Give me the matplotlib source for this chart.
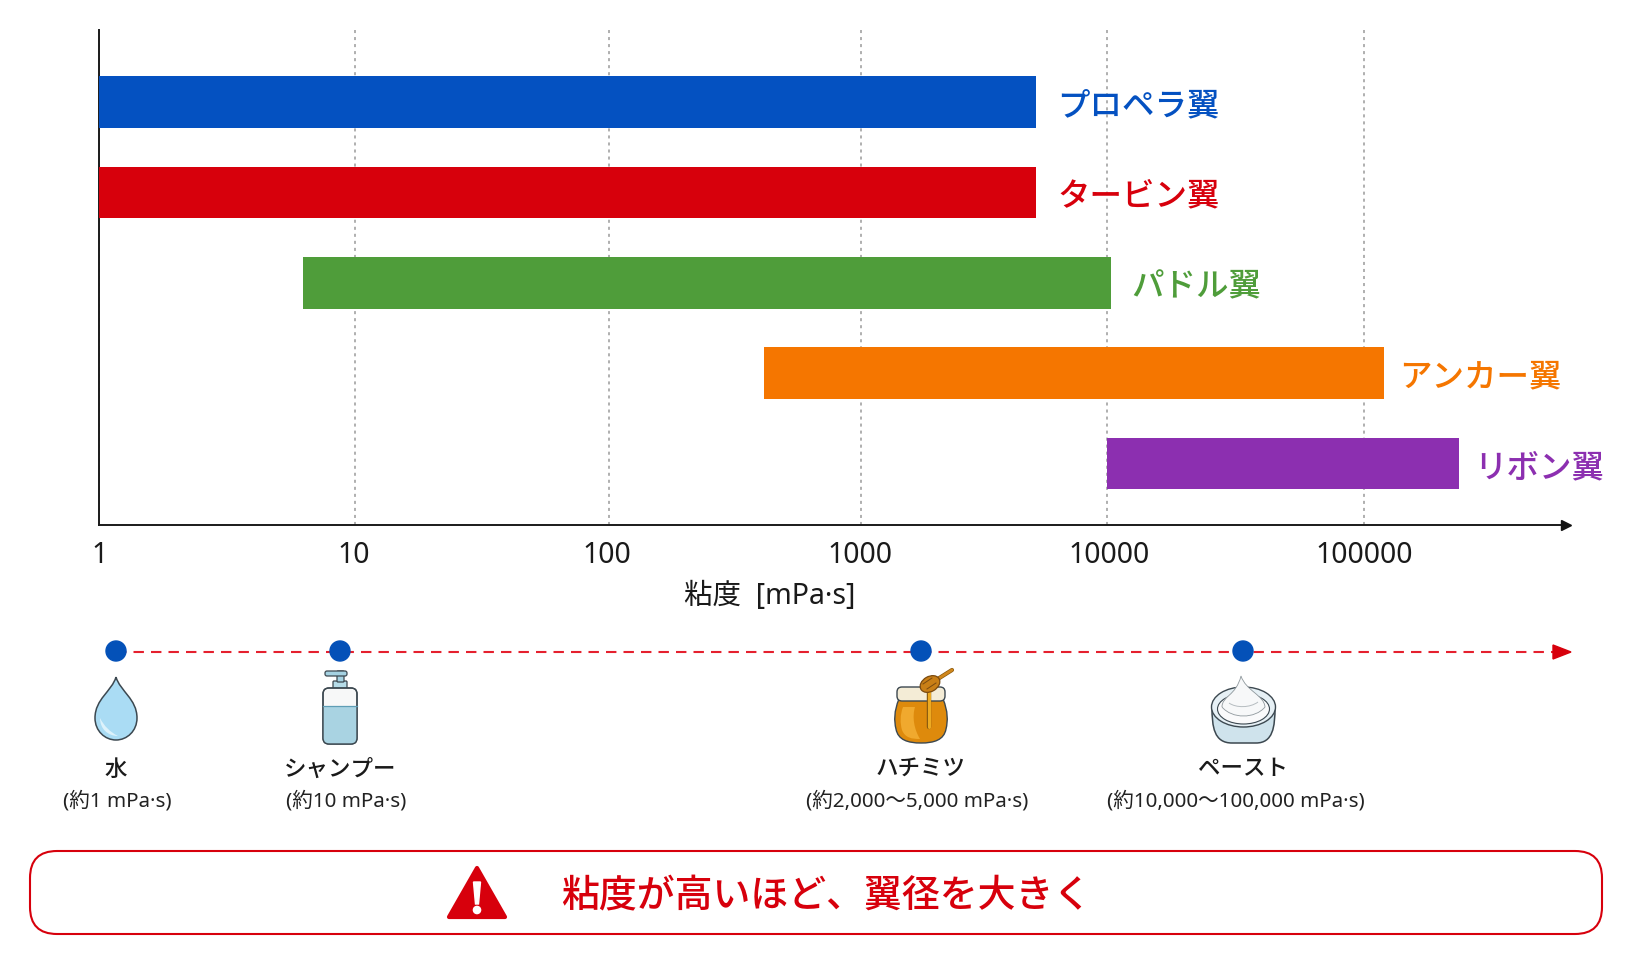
import numpy as np
import matplotlib
matplotlib.use('Agg')
import matplotlib.pyplot as plt
from matplotlib.patches import Polygon, PathPatch, FancyBboxPatch, Ellipse, Circle, Rectangle
from matplotlib.path import Path
from matplotlib.transforms import ScaledTranslation

W, H = 1635, 962
JP = ['Noto Sans CJK JP', 'DejaVu Sans']
LATIN_JP = ['Noto Sans', 'Noto Sans CJK JP']

# impeller ranges
impellers = ['プロペラ翼', 'タービン翼', 'パドル翼', 'アンカー翼', 'リボン翼']
visc_low = [1, 1, 6.3, 412, 10000]
visc_high = [5150, 5150, 10400, 120000, 235000]
bar_colors = ['#0451C1', '#D7000C', '#4F9D3A', '#F57600', '#8C2FB0']
label_gap = [15.5, 15.5, 14, 10.5, 10.5]

tick_values = [1, 10, 100, 1000, 10000, 100000]
tick_labels = ['1', '10', '100', '1000', '10000', '100000']
tick_shift = [1, -1, -2, -1, 2, 0]

# reference fluids along the strip below the chart
fluids = ['水', 'シャンプー', 'ハチミツ', 'ペースト']
fluid_ranges = ['(約1 mPa·s)', '(約10 mPa·s)', '(約2,000〜5,000 mPa·s)', '(約10,000〜100,000 mPa·s)']
fluid_x = [116, 340, 921, 1243]
range_x = [117, 346, 917, 1236]

# pixel position of each decade on the axis
decade_log = [0, 1, 2, 3, 4, 5, 6]
decade_px = [99, 354.7, 609, 861, 1107, 1364, 1621]


def forward(x):
    return np.interp(np.log10(np.maximum(x, 1e-3)), decade_log, decade_px)


def inverse(p):
    return 10 ** np.interp(p, decade_px, decade_log)


fig = plt.figure(figsize=(W / 100, H / 100), dpi=100)
ax = fig.add_axes([99 / W, 1 - 526 / H, (1566 - 99) / W, (526 - 31) / H])
ax.set_xscale('function', functions=(forward, inverse))
ax.set_xlim(1, inverse(1566))
ax.set_ylim((526 - 103) / 90.4, (31 - 103) / 90.4)

y = np.arange(len(impellers))
for i in y:
    ax.barh(i, visc_high[i] - visc_low[i], left=visc_low[i], height=0.57,
            color=bar_colors[i], zorder=3)
    ax.annotate(impellers[i], (visc_high[i], i), xytext=(label_gap[i], -2.5),
                textcoords='offset points', va='center', ha='left',
                fontsize=23.4, fontweight='medium', family=JP,
                color=bar_colors[i], zorder=4)

ax.set_xticks(tick_values, tick_labels)
ax.minorticks_off()
ax.set_yticks([])
ax.tick_params(axis='x', length=0, pad=11, labelsize=20.5, labelcolor='#1a1a1a')
for lab, dx in zip(ax.get_xticklabels(), tick_shift):
    lab.set_family('Noto Sans')
    lab.set_transform(lab.get_transform() + ScaledTranslation(dx / 100, 0, fig.dpi_scale_trans))
ax.grid(axis='x', color='#9a9a9a', lw=1.1, ls=(0, (2, 2.6)), zorder=1)
ax.set_axisbelow(True)
for s in ['top', 'right']:
    ax.spines[s].set_visible(False)
for s in ['left', 'bottom']:
    ax.spines[s].set_linewidth(1.4)
    ax.spines[s].set_color('#1a1a1a')
ax.plot(1, 0, '>', transform=ax.transAxes, clip_on=False, color='#111111', ms=7, zorder=5)

# everything below the chart is laid out in pixels
ov = fig.add_axes([0, 0, 1, 1], facecolor='none')
ov.set_xlim(0, W)
ov.set_ylim(H, 0)
ov.axis('off')

ov.text(770, 596, '粘度  [mPa·s]', ha='center', va='center', fontsize=20.5,
        family=LATIN_JP, color='#1a1a1a')

# viscosity strip
ov.plot([116, 1556], [653, 653], color='#E5202E', lw=1.5, ls=(0, (5, 3.4)), zorder=1)
ov.add_patch(Polygon([[1553, 646], [1571, 653], [1553, 660]], color='#D7000C', zorder=2))
for fx in fluid_x:
    ov.add_patch(Circle((fx, 652), 10, color='#0451B8', zorder=3))

for name, rng, nx, rx in zip(fluids, fluid_ranges, fluid_x, range_x):
    ov.text(nx, 769, name, ha='center', va='center', fontsize=16.2,
            fontweight='medium', family=JP, color='#1a1a1a')
    ov.text(rx, 801, rng, ha='center', va='center', fontsize=14.8,
            family=LATIN_JP, color='#222222')

OUT = '#3c4850'


def curve(verts, **kw):
    codes = [Path.MOVETO] + [Path.CURVE4] * (len(verts) - 1)
    p = PathPatch(Path(verts, codes), **kw)
    ov.add_patch(p)
    return p


def rrect(x0, y0, x1, y1, r, **kw):
    p = FancyBboxPatch((x0 + r, y0 + r), x1 - x0 - 2 * r, y1 - y0 - 2 * r,
                       boxstyle=f'round,pad={r},rounding_size={r}', **kw)
    ov.add_patch(p)
    return p


# water drop
cx = 116
curve([(cx, 678), (cx + 4, 692), (cx + 21, 700), (cx + 21, 719),
       (cx + 21, 732), (cx + 11, 741), (cx, 741),
       (cx - 11, 741), (cx - 21, 732), (cx - 21, 719),
       (cx - 21, 700), (cx - 4, 692), (cx, 678)],
      fc='#AADCF4', ec=OUT, lw=1.1)
curve([(cx - 16, 719), (cx - 16, 730), (cx - 8, 737), (cx + 2, 737),
       (cx - 6, 733), (cx - 12, 727), (cx - 16, 719)],
      fc='#DDF2FB', ec='none')

# shampoo bottle
rrect(333, 682, 347, 692, 1, fc='#B5DCE8', ec=OUT, lw=0.9)
rrect(337, 672, 344, 683, 1, fc='#A5D2E2', ec=OUT, lw=0.9)
rrect(325, 672, 347, 677, 2, fc='#A5D2E2', ec=OUT, lw=0.9)
body = rrect(323, 689, 357, 745, 6, fc='#F7F8F8', ec=OUT, lw=1.0)
liquid = Rectangle((323, 707), 34, 38, fc='#A9D3E2', ec='none')
ov.add_patch(liquid)
liquid.set_clip_path(body)
rrect(323, 689, 357, 745, 6, fc='none', ec=OUT, lw=1.0)
ov.plot([323, 357], [707, 707], color='#5E9DB5', lw=0.9)

# honey jar
curve([(899, 700), (894, 712), (894, 722), (896, 730),
       (898, 741), (908, 744), (921, 744),
       (934, 744), (944, 741), (946, 730),
       (948, 722), (948, 712), (943, 700),
       (930, 700), (912, 700), (899, 700)],
      fc='#DE8A0C', ec=OUT, lw=1.0)
curve([(903, 708), (900, 716), (900, 724), (902, 731),
       (905, 739), (912, 740), (920, 740),
       (914, 730), (912, 718), (915, 708),
       (911, 708), (907, 708), (903, 708)],
      fc='#F0A92E', ec='none')
rrect(897, 688, 945, 702, 5, fc='#F4ECD6', ec=OUT, lw=1.0)
ov.plot([929, 929], [692, 728], color='#8A5A10', lw=3.2, solid_capstyle='round')
ov.plot([929, 929], [692, 728], color='#EDAA22', lw=2.2, solid_capstyle='round')
ov.plot([933, 952], [683, 671], color='#8A5A10', lw=3.0, solid_capstyle='round')
ov.plot([933, 952], [683, 671], color='#D0871C', lw=2.0, solid_capstyle='round')
ov.add_patch(Ellipse((930, 685), 21, 15, angle=-30, fc='#C97F16', ec='#7A4A10', lw=0.9, zorder=3))
ov.plot([923, 932], [685, 679], color='#7A4A10', lw=0.7, zorder=4)
ov.plot([927, 936], [690, 684], color='#7A4A10', lw=0.7, zorder=4)

# cream pot
curve([(1212, 708), (1212, 728), (1214, 744), (1232, 744),
       (1240, 744), (1248, 744), (1256, 744),
       (1273, 744), (1275, 728), (1275, 708),
       (1255, 708), (1232, 708), (1212, 708)],
      fc='#CFE3EC', ec=OUT, lw=1.1)
ov.add_patch(Ellipse((1243.5, 708), 64, 40, fc='#E6F0F5', ec=OUT, lw=1.0))
ov.add_patch(Ellipse((1243.5, 710), 52, 30, fc='#FAFAFB', ec=OUT, lw=0.8))
curve([(1222, 708), (1222, 697), (1236, 697), (1241, 677),
       (1246, 692), (1264, 696), (1265, 708),
       (1255, 720), (1232, 720), (1222, 708)],
      fc='#F7F8F9', ec='#8f989d', lw=0.6)
curve([(1229, 704), (1236, 709), (1250, 709), (1258, 703)], fc='none', ec='#b5bcc0', lw=0.7)

# callout
ov.add_patch(FancyBboxPatch((30 + 27, 852 + 27), 1602 - 30 - 54, 935 - 852 - 54,
                            boxstyle='round,pad=27,rounding_size=27',
                            fc='white', ec='#D7000C', lw=1.5))
ov.add_patch(Polygon([[477, 869], [505, 918], [449, 918]], closed=True,
                     fc='#D7000C', ec='#D7000C', lw=3, joinstyle='round'))
ov.add_patch(Polygon([[473.5, 883], [480.5, 883], [478.5, 905], [475.5, 905]], color='white'))
ov.add_patch(Circle((477, 911), 3.6, color='white'))
ov.text(826.5, 896, '粘度が高いほど、翼径を大きく', ha='center', va='center',
        fontsize=27.3, fontweight='medium', family=JP, color='#D7000C')

fig.savefig('out.png', dpi=100)
